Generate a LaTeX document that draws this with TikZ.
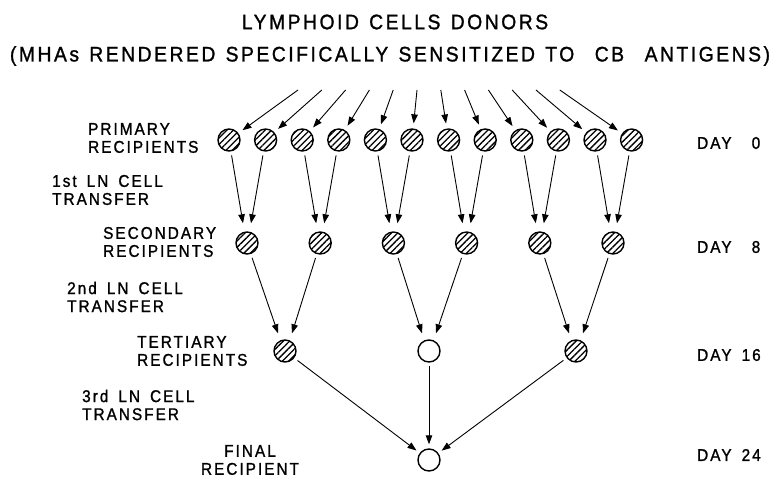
\documentclass[tikz,border=0pt]{standalone}
\usepackage{fontspec}
\setmainfont{Liberation Sans}
\newfontfamily\lblfont[LetterSpace=12,WordSpace=1.6,FakeStretch=0.9,FakeBold=1.2]{Liberation Sans}
\newfontfamily\ttlfont[LetterSpace=12,WordSpace=1.3,FakeStretch=0.92,FakeBold=1.2]{Liberation Sans}
\usetikzlibrary{arrows.meta,patterns.meta,calc}

\begin{document}
\begin{tikzpicture}[x=1pt,y=-1pt,
    cell/.style={circle, draw, line width=1.4pt, minimum size=22pt, inner sep=0pt},
    hatched/.style={cell, pattern={Lines[angle=45,distance=4.5pt,line width=1.3pt]}},
    title/.style={font=\ttlfont\fontsize{21}{24}\selectfont, inner sep=0pt},
    lbl/.style={font=\lblfont\fontsize{17}{18}\selectfont, align=left, anchor=west, inner sep=0pt},
    arr/.style={-{Triangle[length=9pt,width=6.5pt]}, line width=0.9pt}
]
\useasboundingbox (0,0) rectangle (779,478);

% titles
\node[title] (t0) at (395,22) {LYMPHOID CELLS DONORS};
\node[title] (t00) at (390,56) {(MHAs RENDERED SPECIFICALLY SENSITIZED TO\ \ CB\ \ ANTIGENS)};

% recipients
\foreach \i in {1,...,12}
  \node[hatched] (p\i) at ({229+36.6*(\i-1)},140) {};
\foreach \i in {1,...,6}
  \node[hatched] (s\i) at ({247+73.2*(\i-1)},243) {};
\node[hatched] (t1) at (285,351) {};
\node[cell] (t2) at (429,351) {};
\node[hatched] (t3) at (576,351) {};
\node[cell] (f) at (429,460) {};

% labels
\node[lbl] (lp) at (88,138) {PRIMARY\\RECIPIENTS};
\node[lbl] (l1) at (52,190) {1st LN CELL\\TRANSFER};
\node[lbl] (ls) at (103,242) {SECONDARY\\RECIPIENTS};
\node[lbl] (l2) at (67,297) {2nd LN CELL\\TRANSFER};
\node[lbl] (lt) at (137,351) {TERTIARY\\RECIPIENTS};
\node[lbl] (l3) at (82,405) {3rd LN CELL\\TRANSFER};
\node[lbl, anchor=center, align=center] (lf) at (250,460) {FINAL\\RECIPIENT};

\node[lbl] (d0) at (697,143) {DAY\ \ 0};
\node[lbl] (d8) at (697,247) {DAY\ \ 8};
\node[lbl] (d16) at (697,355) {DAY 16};
\node[lbl] (d24) at (697,455) {DAY 24};

% donors
\foreach \i in {1,...,12} {
  \coordinate (don\i) at ({298+23.8*(\i-1)},90);
  \draw[arr, shorten >=5pt] (don\i) -- (p\i);
}

% 1st transfer
\foreach \k in {1,...,6} {
  \pgfmathtruncatemacro\a{2*\k-1}
  \pgfmathtruncatemacro\b{2*\k}
  \draw[arr, shorten <=4pt] (p\a) -- ($(s\k.north)+(-4,-8)$);
  \draw[arr, shorten <=4pt] (p\b) -- ($(s\k.north)+(4,-8)$);
}

% 2nd transfer
\draw[arr, shorten <=4pt] (s1) -- ($(t1.north)+(-7,-6)$);
\draw[arr, shorten <=4pt] (s2) -- ($(t1.north)+(7,-6)$);
\draw[arr, shorten <=4pt] (s3) -- ($(t2.north)+(-7,-6)$);
\draw[arr, shorten <=4pt] (s4) -- ($(t2.north)+(7,-6)$);
\draw[arr, shorten <=4pt] (s5) -- ($(t3.north)+(-7,-6)$);
\draw[arr, shorten <=4pt] (s6) -- ($(t3.north)+(7,-6)$);

% 3rd transfer
\draw[arr, shorten <=4pt, shorten >=4pt] (t1) -- (f);
\draw[arr, shorten <=3pt, shorten >=4pt] (t2) -- (f);
\draw[arr, shorten <=4pt, shorten >=4pt] (t3) -- (f);
\end{tikzpicture}
\end{document}
